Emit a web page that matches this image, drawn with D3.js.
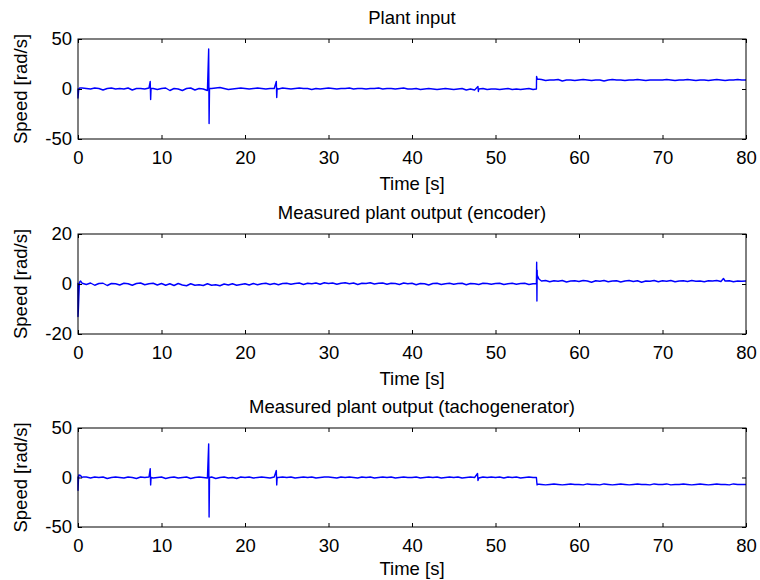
<!DOCTYPE html>
<html>
<head>
<meta charset="utf-8">
<script src="https://cdn.jsdelivr.net/npm/d3@7"></script>
<style>
body { margin: 0; background: #fff; }
svg text { font-family: "Liberation Sans", Arial, Helvetica, sans-serif; fill: #000; }
</style>
</head>
<body>
<div id="chart"></div>
<script>

const width = 760;
const height = 580;

// time base of the sampled values (s)
const sampleStep = 0.5;

const xTicks = [0, 10, 20, 30, 40, 50, 60, 70, 80];

const titles = ['Plant input', 'Measured plant output (encoder)', 'Measured plant output (tachogenerator)'];
const yDomains = [[-50, 50], [-20, 20], [-50, 50]];
const yTicks = [[-50, 0, 50], [-20, 0, 20], [-50, 0, 50]];

// plant input, every 0.5 s from 0 to 80 s
const inputValues = [
	0.5, 1, 0.5, 0, 1, 0.5, -1, 0.5, 1, 0,
	0.5, 0, 1, -1, 0.5, 0.5, 0, 1, 0.5, -0.5,
	0.5, 1, -1.5, 0.5, 0, -1.5, 0.5, 1, -1, 0.5,
	0, -1.5, 0.5, 1, 1.5, 0.5, -0.5, 0, 0.5, 1,
	0.5, 0, 0.5, 1, 0.5, 0, 0.5, 0.5, 0, 1,
	0.5, 0, 0.5, 1, 0.5, 0.5, -0.5, 0.5, 0, 0.5,
	1, 0.5, 0, 0.5, 0.5, 1, 0, 0.5, 0.5, 0,
	0.5, 0.5, 1, 0, 0.5, 0.5, 0, 0.5, 1, 0,
	0, 0.5, -0.5, 0, 0.5, 0, -0.5, 0, 0.5, 0,
	-0.5, 0, 0.5, -1, 0, -1, 0, 0.5, -0.5, 0,
	0, -0.5, 0, 0.5, -0.5, 0, -0.5, 0, 0.5, -0.5,
	10, 9.5, 8.5, 9, 9, 9.5, 8, 9, 9, 8.5,
	9, 9.5, 9, 8.5, 9, 9, 8, 9, 9.5, 9,
	9, 8.5, 9, 9, 9.5, 9, 8.5, 9, 9, 9,
	9, 9.5, 9, 8.5, 9, 9, 9.5, 9, 8.5, 9,
	9, 8.5, 9, 9.5, 9, 8.5, 9, 9, 9.5, 9,
	9
];

// short events inside the input signal [t, value]
const inputSpikes = [
	[0, -9], [0.05, -4], [0.1, 0], [0.2, 1],
	[8.65, 7.5], [8.7, -10.5], [8.75, 0.5],
	[15.65, 40], [15.7, -34.5], [15.75, 0.5],
	[23.75, 7.5], [23.8, -8.5], [23.85, 0.5],
	[47.9, 2.5], [47.95, -2.5],
	[54.9, 0], [54.92, 12.5]
];

const encoderValues = [
	0.5, 0.3, -0.2, 0.4, -0.5, 0.2, 0.3, -0.6, 0.2, 0.1,
	-0.4, 0.3, 0.1, -0.5, 0.2, 0.4, -0.3, 0.1, 0.3, -0.4,
	0.2, -0.5, 0.1, -0.6, 0.2, -0.4, -0.7, 0.1, -0.5, -0.3,
	-0.6, 0.1, -0.5, -0.3, -0.7, 0, -0.4, 0.1, -0.5, -0.2,
	0.1, -0.4, 0.2, -0.3, 0.1, 0.3, -0.2, 0.2, -0.3, 0.2,
	0.3, -0.1, 0.2, 0.4, -0.2, 0.3, 0.1, 0.4, -0.1, 0.5,
	0.2, 0.4, -0.1, 0.3, 0.5, 0.1, 0.4, -0.2, 0.3, 0.2,
	0.5, 0, 0.3, 0.4, -0.1, 0.3, 0.2, -0.2, 0.4, 0.1,
	0.3, -0.3, 0.2, 0.1, -0.4, 0.2, 0.3, -0.2, 0.1, 0.3,
	-0.1, 0.2, 0.3, -0.3, 0.2, 0.1, -0.2, 0.3, 0.2, -0.1,
	0.2, 0.3, -0.2, 0.1, 0.3, -0.1, 0.2, 0.3, -0.2, 0.1,
	3.5, 1.2, 1.4, 0.9, 1.3, 1.1, 1.4, 0.8, 1.2, 1.3,
	1.0, 1.4, 1.2, 0.7, 1.3, 1.1, 1.4, 0.9, 1.2, 1.3,
	0.8, 1.2, 1.4, 1.0, 1.3, 0.7, 1.2, 1.1, 1.4, 0.9,
	1.3, 1.1, 1.4, 0.9, 1.2, 1.3, 1.0, 1.4, 1.1, 1.2,
	0.9, 1.3, 1.2, 1.4, 1.0, 1.2, 1.3, 0.9, 1.2, 1.1,
	1.2
];

const encoderSpikes = [
	[0, -13], [0.05, -10], [0.1, -5], [0.15, -1], [0.2, 0.8], [0.3, 1.2],
	[54.9, 0.2], [54.93, 8.7], [54.96, -6.8], [54.99, 5.5],
	[55.2, 2], [77.3, 2.2]
];

const tachoValues = [
	1, 0, 0.5, -0.5, 0.5, 0, 0.5, -1, 0, 0.5,
	0, -0.5, 0.5, 0, -1, 0.5, 0, 0.5, -0.5, 0,
	0.5, -1, 0, 0.5, -0.5, 0, 0.5, -1, 0, 0.5,
	0, -0.5, 0.5, -1, 0, 0.5, -0.5, 0, -1, 0.5,
	0, 0.5, -0.5, 0, 0.5, 0, -0.5, 0.5, 0, 0.5,
	0, 0.5, -0.5, 0, 0.5, 0, 0.5, -0.5, 0, 0.5,
	0.5, 0, -0.5, 0.5, 0, 0.5, 0, -0.5, 0.5, 0,
	0.5, -0.5, 0, 0.5, 0, 0.5, -0.5, 0, 0.5, 0,
	0, 0.5, -0.5, 0, 0.5, 0, 0.5, -0.5, 0, 0.5,
	0, 0.5, -0.5, 0, 0.5, 0, -0.5, 0.5, 0, 0.5,
	0, 0.5, -0.5, 0.5, 0, 0.5, -0.5, 0, 0.5, 0,
	-6.5, -7, -7.5, -7, -6.5, -7, -7.5, -7, -6.5, -7,
	-7, -7.5, -6.5, -7, -7, -7.5, -6.5, -7, -7.5, -7,
	-6.5, -7, -7.5, -7, -6.5, -7, -7, -7.5, -6.5, -7,
	-7, -6.5, -7.5, -7, -7, -6.5, -7, -7.5, -7, -6.5,
	-7, -7.5, -7, -6.5, -7, -7, -7.5, -6.5, -7, -7,
	-7
];

const tachoSpikes = [
	[0, -13], [0.05, -3], [0.1, 2.5], [0.3, 2], [0.6, 0.5],
	[8.65, 9], [8.7, -7.5], [8.75, 0],
	[15.65, 34], [15.7, -40], [15.75, 0],
	[23.75, 7], [23.8, -7.5], [23.85, 0],
	[47.85, 4], [47.9, -3],
	[54.9, 0], [54.95, -5], [54.98, -7.5]
];

const seriesValues = [inputValues, encoderValues, tachoValues];
const seriesSpikes = [inputSpikes, encoderSpikes, tachoSpikes];

// panel boxes
const panels = [
	{top: 39, bottom: 139},
	{top: 234, bottom: 334},
	{top: 428, bottom: 527}
];
const left = 78;
const right = 746;
const tickLen = 4;
const fontSize = '18.5px';

const svg = d3.select('#chart').append('svg')
	.attr('width', width)
	.attr('height', height)

let xScale = d3.scaleLinear()
	.domain([0, 80])
	.range([left, right])

const line = (yScale) => d3.line()
	.x(d => xScale(d[0]))
	.y(d => yScale(d[1]))

panels.map((p, i) => {

	let yScale = d3.scaleLinear()
		.domain(yDomains[i])
		.range([p.bottom, p.top])

	// base samples plus the short events, in time order
	let points = seriesValues[i].map((v, k) => [k * sampleStep, v])
		.concat(seriesSpikes[i])
		.sort((a, b) => a[0] - b[0])

	let g = svg.append('g')

	g.append('path')
		.datum(points)
		.attr('d', line(yScale))
		.style('fill', 'none')
		.style('stroke', '#0000ff')
		.style('stroke-width', 1.4)
		.style('stroke-linejoin', 'round')

	// axes, ticks inside like matlab
	g.append('g')
		.attr('transform', `translate(0,${p.bottom})`)
		.call(d3.axisBottom(xScale).tickValues(xTicks).tickSizeInner(-tickLen).tickSizeOuter(0).tickPadding(12).tickFormat(d => d))
		.call(a => a.select('.domain').remove())

	g.append('g')
		.attr('transform', `translate(0,${p.top})`)
		.call(d3.axisTop(xScale).tickValues(xTicks).tickSizeInner(-tickLen).tickSizeOuter(0).tickFormat(''))
		.call(a => a.select('.domain').remove())

	g.append('g')
		.attr('transform', `translate(${left},0)`)
		.call(d3.axisLeft(yScale).tickValues(yTicks[i]).tickSizeInner(-tickLen).tickSizeOuter(0).tickPadding(6).tickFormat(d => d))
		.call(a => a.select('.domain').remove())

	g.append('g')
		.attr('transform', `translate(${right},0)`)
		.call(d3.axisRight(yScale).tickValues(yTicks[i]).tickSizeInner(-tickLen).tickSizeOuter(0).tickFormat(''))
		.call(a => a.select('.domain').remove())

	g.selectAll('.tick text')
		.style('font-size', fontSize)
		.attr('fill', '#000')

	g.selectAll('.tick line')
		.attr('stroke', '#000')

	g.append('rect')
		.attr('x', left)
		.attr('y', p.top)
		.attr('width', right - left)
		.attr('height', p.bottom - p.top)
		.style('fill', 'none')
		.style('stroke', '#000')
		.style('stroke-width', 1)

	g.append('text')
		.attr('x', (left + right) / 2)
		.attr('y', p.top - 15)
		.attr('text-anchor', 'middle')
		.style('font-size', fontSize)
		.text(titles[i])

	g.append('text')
		.attr('x', (left + right) / 2)
		.attr('y', Math.min(p.bottom + 51, height - 5))
		.attr('text-anchor', 'middle')
		.style('font-size', fontSize)
		.text('Time [s]')

	g.append('text')
		.attr('transform', `translate(27,${(p.top + p.bottom) / 2}) rotate(-90)`)
		.attr('text-anchor', 'middle')
		.style('font-size', fontSize)
		.text('Speed [rad/s]')
})

</script>
</body>
</html>
